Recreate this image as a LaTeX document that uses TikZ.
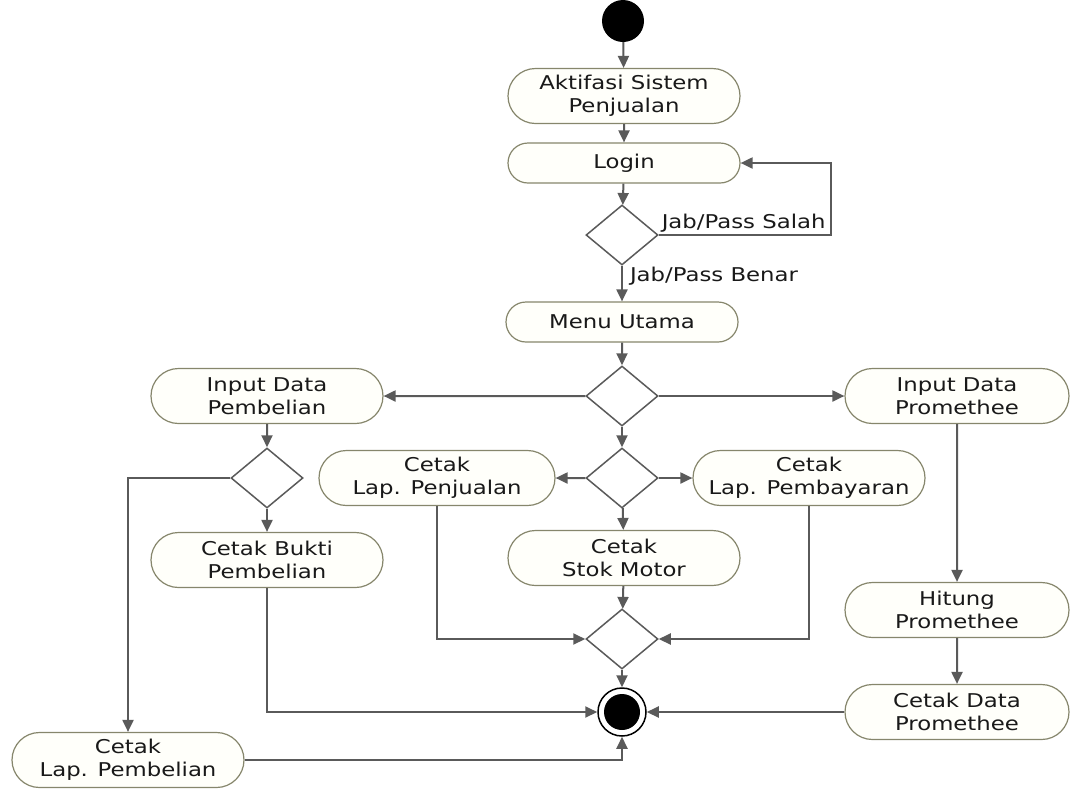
\documentclass[tikz,border=0pt]{standalone}
\usepackage{fontspec}
\setmainfont{DejaVu Sans}[FakeStretch=1.2]
\usetikzlibrary{arrows.meta, shapes.geometric, shapes.misc}

\definecolor{garis}{HTML}{5A5A5A}
\definecolor{tepi}{HTML}{86866C}
\definecolor{isi}{HTML}{FFFFFA}

\begin{document}
\begin{tikzpicture}[x=1pt, y=-1pt,
  font=\fontsize{19}{23}\selectfont,
  aktivitas/.style={rounded rectangle, draw=tepi, fill=isi, line width=1.2pt,
    minimum width=236pt, minimum height=55pt, align=center, inner sep=2pt, text=black!90},
  keputusan/.style={diamond, draw=garis, fill=white, line width=1.5pt,
    minimum width=72pt, minimum height=60pt, inner sep=0pt},
  alur/.style={draw=garis, line width=2pt, -{Triangle[length=12pt,width=11pt]}},
  ket/.style={text=black!90, inner sep=2pt}]

\useasboundingbox (0,0) rectangle (1072,788);

% --- Start / end ---
\node[circle, fill=black, minimum size=42pt, inner sep=0pt] (mulai) at (623,21) {};
\node[circle, draw=black, line width=1.5pt, fill=white, minimum size=48pt, inner sep=0pt] (selesai) at (622,712) {};
\fill[black] (selesai.center) circle (18pt);

% --- Main column ---
\node[aktivitas] (aktif) at (624,96) {Aktifasi Sistem\\Penjualan};
\node[aktivitas, minimum height=40pt] (login) at (624,163) {Login};
\node[keputusan] (cekLogin) at (622,235) {};
\node[aktivitas, minimum height=40pt] (menu) at (622,322) {Menu Utama};
\node[keputusan] (pilihMenu) at (622,396) {};

% --- Left branch: pembelian ---
\node[aktivitas] (inBeli) at (267,396) {Input Data\\Pembelian};
\node[keputusan] (pilihBeli) at (267,478) {};
\node[aktivitas] (buktiBeli) at (267,560) {Cetak Bukti\\Pembelian};
\node[aktivitas] (lapBeli) at (128,760) {Cetak\\Lap. Pembelian};

% --- Middle branch: laporan ---
\node[keputusan] (pilihLap) at (622,478) {};
\node[aktivitas, minimum width=240pt] (lapJual) at (437,478) {Cetak\\Lap. Penjualan};
\node[aktivitas] (lapBayar) at (809,478) {Cetak\\Lap. Pembayaran};
\node[aktivitas] (stok) at (624,558) {Cetak\\Stok Motor};
\node[keputusan] (gabung) at (622,639) {};

% --- Right branch: promethee ---
\node[aktivitas, minimum width=228pt] (inProm) at (957,396) {Input Data\\Promethee};
\node[aktivitas, minimum width=228pt] (hitung) at (957,610) {Hitung\\Promethee};
\node[aktivitas, minimum width=228pt] (cetProm) at (957,712) {Cetak Data\\Promethee};

% --- Flow ---
\draw[alur] (mulai) -- (aktif);
\draw[alur] (aktif) -- (login);
\draw[alur] (login) -- (cekLogin);
\draw[alur] (cekLogin.east) -- ++(172,0)
  node[ket, pos=0, anchor=south west] {Jab/Pass Salah} |- (login.east);
\draw[alur] (cekLogin) -- (menu)
  node[ket, pos=0.3, anchor=west, xshift=5pt] {Jab/Pass Benar};
\draw[alur] (menu) -- (pilihMenu);
\draw[alur] (pilihMenu) -- (inBeli);
\draw[alur] (pilihMenu) -- (inProm);
\draw[alur] (pilihMenu) -- (pilihLap);

\draw[alur] (inBeli) -- (pilihBeli);
\draw[alur] (pilihBeli) -- (buktiBeli);
\draw[alur] (pilihBeli.west) -| (lapBeli.north);

\draw[alur] (pilihLap) -- (lapJual);
\draw[alur] (pilihLap) -- (lapBayar);
\draw[alur] (pilihLap) -- (stok);
\draw[alur] (lapJual.south) |- (gabung.west);
\draw[alur] (lapBayar.south) |- (gabung.east);
\draw[alur] (stok) -- (gabung);
\draw[alur] (gabung) -- (selesai);

\draw[alur] (buktiBeli.south) |- (selesai.west);
\draw[alur] (lapBeli.east) -| (selesai.south);

\draw[alur] (inProm) -- (hitung);
\draw[alur] (hitung) -- (cetProm);
\draw[alur] (cetProm) -- (selesai);

\end{tikzpicture}
\end{document}
